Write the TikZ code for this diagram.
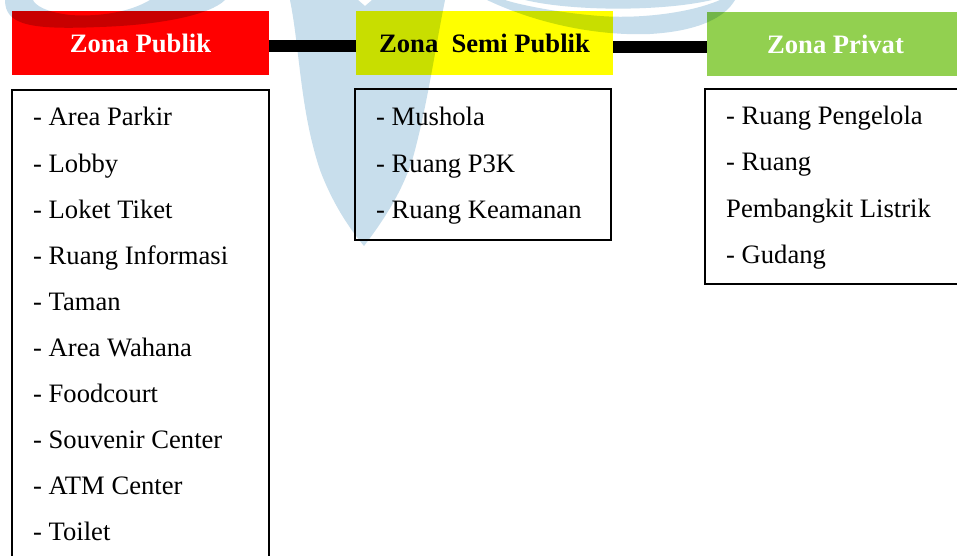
\documentclass[tikz,border=0pt]{standalone}
\usepackage{fontspec}
\setmainfont{Liberation Serif}
\definecolor{zred}{HTML}{FF0000}
\definecolor{zyel}{HTML}{FFFF00}
\definecolor{zgrn}{HTML}{92D050}
\definecolor{wmblue}{HTML}{C8DEEC}
\begin{document}
\begin{tikzpicture}[x=1pt,y=-1pt,
  hdr/.style={minimum width=257pt,minimum height=64pt,inner sep=0pt,
    font=\fontsize{26.6}{30}\selectfont\bfseries},
  listbox/.style={draw=black,line width=1.8pt,inner sep=0pt},
  item/.style={anchor=base west,inner sep=0pt,font=\fontsize{26.6}{30}\selectfont},
  bar/.style={line width=12pt},
  wm/.style={fill=wmblue}]
\useasboundingbox (0,0) rectangle (957,556);
\clip (0,0) rectangle (957,556);
\fill[white] (0,0) rectangle (957,556);
% headers
\node[hdr,fill=zred,text=white] (zp) at (140.5,43) {Zona Publik};
\node[hdr,fill=zyel,text=black] (zs) at (484.5,43) {Zona\ \ Semi Publik};
\node[hdr,fill=zgrn,text=white] (zv) at (835.5,44) {Zona Privat};
% connectors
\draw[bar] ([yshift=-3pt]zp.east) -- ([yshift=-3pt]zs.west);
\draw[bar] ([yshift=-4pt]zs.east) -- ([yshift=-3pt]zv.west);
% list boxes
\node[listbox,minimum width=257pt,minimum height=480pt] (lp) at (140.5,330) {};
\node[listbox,minimum width=256pt,minimum height=151pt] (mp) at (483,164.5) {};
\node[listbox,minimum width=265pt,minimum height=195pt] (rp) at (837.5,186.5) {};
% items
\foreach \t [count=\i] in {Area Parkir,Lobby,Loket Tiket,Ruang Informasi,Taman,Area Wahana,Foodcourt,Souvenir Center,ATM Center,Toilet}
  \node[item] (l\i) at (33,{126+46*(\i-1)}) {- \t};
\foreach \t [count=\i] in {Mushola,Ruang P3K,Ruang Keamanan}
  \node[item] (m\i) at (376,{126+46*(\i-1)}) {- \t};
\node[item] (r1) at (726,125) {- Ruang Pengelola};
\node[item] (r2) at (726,171) {- Ruang};
\node[item] (r3) at (726,217) {Pembangkit Listrik};
\node[item] (r4) at (726,263) {- Gudang};
% watermark
\begin{scope}[blend mode=multiply]
\fill[wm] (5,-5) -- (5,0) .. controls (5,25) and (30,30) .. (100,27)
  .. controls (160,25) and (210,15) .. (225,0) -- (225,-5) -- (150,-5) -- (150,0)
  .. controls (130,12) and (100,17) .. (70,15) .. controls (45,12) and (35,5) .. (33,0) -- (33,-5) -- cycle;
\fill[wm] (487,-5) -- (487,0) .. controls (540,25) and (600,36) .. (650,34)
  .. controls (700,31) and (725,17) .. (735,0) -- (735,-5) -- (720,-5) -- (720,0)
  .. controls (690,13) and (640,19) .. (600,16) .. controls (560,13) and (520,5) .. (505,0) -- (505,-5) -- cycle;
\fill[wm] (525,0) .. controls (570,11) and (660,12) .. (712,0) -- cycle;
\fill[wm] (290,-5) -- (290,0) .. controls (300,50) and (300,110) .. (320,170)
  .. controls (335,210) and (355,235) .. (364,246)
  .. controls (380,225) and (405,190) .. (415,150)
  .. controls (428,100) and (435,50) .. (445,0) -- (445,-5) -- (372,-5) -- (372,0)
  -- (365,6) -- (358,0) -- (358,-5) -- cycle;
\end{scope}
\end{tikzpicture}
\end{document}
